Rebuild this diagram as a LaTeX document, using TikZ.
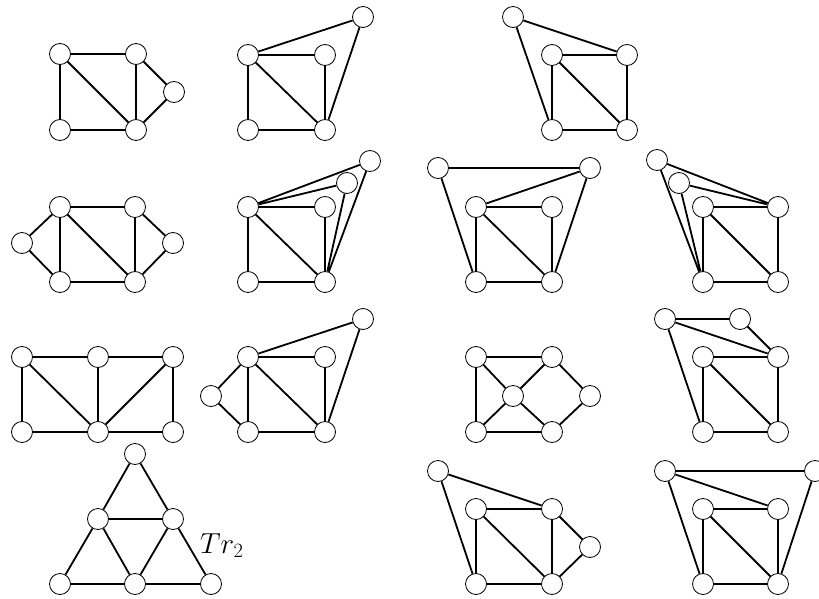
\RequirePackage{fix-cm}
\documentclass[tikz,border=0pt]{standalone}
\begin{document}
\begin{tikzpicture}[x=1pt,y=-1pt,
  v/.style={circle,draw,fill=white,minimum size=21pt,inner sep=0pt,line width=0.8pt},
  ed/.style={line width=1.8pt}]
\useasboundingbox (0,0) rectangle (819,599);
% Graph A
\node[v] (a1) at (60,54) {};
\node[v] (a2) at (136,54) {};
\node[v] (a3) at (174,92) {};
\node[v] (a4) at (60,130) {};
\node[v] (a5) at (136,130) {};
\draw[ed] (a1)--(a2) (a1)--(a4) (a1)--(a5) (a2)--(a5) (a2)--(a3) (a3)--(a5) (a4)--(a5);
% Graph B
\node[v] (b1) at (248,55) {};
\node[v] (b2) at (325,55) {};
\node[v] (b3) at (363,17) {};
\node[v] (b4) at (248,130) {};
\node[v] (b5) at (325,130) {};
\draw[ed] (b1)--(b2) (b1)--(b4) (b1)--(b5) (b2)--(b5) (b4)--(b5) (b1)--(b3) (b3)--(b5);
% Graph C
\node[v] (c1) at (513,17) {};
\node[v] (c2) at (552,55) {};
\node[v] (c3) at (627,55) {};
\node[v] (c4) at (552,130) {};
\node[v] (c5) at (627,130) {};
\draw[ed] (c1)--(c3) (c1)--(c4) (c2)--(c3) (c2)--(c4) (c2)--(c5) (c3)--(c5) (c4)--(c5);
% Graph D
\node[v] (d1) at (22,243) {};
\node[v] (d2) at (60,207) {};
\node[v] (d3) at (135,207) {};
\node[v] (d4) at (173,243) {};
\node[v] (d5) at (60,282) {};
\node[v] (d6) at (135,282) {};
\draw[ed] (d1)--(d2) (d1)--(d5) (d2)--(d3) (d2)--(d5) (d2)--(d6) (d3)--(d6) (d3)--(d4) (d4)--(d6) (d5)--(d6);
% Graph E
\node[v] (e1) at (248,207) {};
\node[v] (e2) at (325,207) {};
\node[v] (e3) at (347,183) {};
\node[v] (e4) at (370,161) {};
\node[v] (e5) at (248,282) {};
\node[v] (e6) at (325,282) {};
\draw[ed] (e1)--(e2) (e1)--(e5) (e1)--(e6) (e2)--(e6) (e5)--(e6) (e1)--(e3) (e1)--(e4) (e3)--(e6) (e4)--(e6);
% Graph F
\node[v] (f1) at (438,168) {};
\node[v] (f2) at (590,168) {};
\node[v] (f3) at (476,207) {};
\node[v] (f4) at (552,207) {};
\node[v] (f5) at (476,282) {};
\node[v] (f6) at (552,282) {};
\draw[ed] (f1)--(f2) (f1)--(f5) (f2)--(f3) (f2)--(f6) (f3)--(f4) (f3)--(f5) (f3)--(f6) (f4)--(f6) (f5)--(f6);
% Graph G
\node[v] (g1) at (657,160) {};
\node[v] (g2) at (679,183) {};
\node[v] (g3) at (703,207) {};
\node[v] (g4) at (778,207) {};
\node[v] (g5) at (703,282) {};
\node[v] (g6) at (778,282) {};
\draw[ed] (g1)--(g4) (g1)--(g5) (g2)--(g4) (g2)--(g5) (g3)--(g4) (g3)--(g5) (g3)--(g6) (g4)--(g6) (g5)--(g6);
% Graph H
\node[v] (h1) at (22,357) {};
\node[v] (h2) at (98,357) {};
\node[v] (h3) at (173,357) {};
\node[v] (h4) at (22,432) {};
\node[v] (h5) at (98,432) {};
\node[v] (h6) at (173,432) {};
\draw[ed] (h1)--(h2) (h2)--(h3) (h1)--(h4) (h1)--(h5) (h2)--(h5) (h3)--(h5) (h3)--(h6) (h4)--(h5) (h5)--(h6);
% Graph I
\node[v] (i1) at (211,396) {};
\node[v] (i2) at (248,357) {};
\node[v] (i3) at (325,357) {};
\node[v] (i4) at (363,319) {};
\node[v] (i5) at (248,432) {};
\node[v] (i6) at (325,432) {};
\draw[ed] (i1)--(i2) (i1)--(i5) (i2)--(i3) (i2)--(i5) (i2)--(i6) (i3)--(i6) (i5)--(i6) (i2)--(i4) (i4)--(i6);
% Graph J
\node[v] (j1) at (476,357) {};
\node[v] (j2) at (552,357) {};
\node[v] (j3) at (513,396) {};
\node[v] (j4) at (590,396) {};
\node[v] (j5) at (476,432) {};
\node[v] (j6) at (552,432) {};
\draw[ed] (j1)--(j2) (j1)--(j5) (j1)--(j3) (j2)--(j3) (j3)--(j5) (j3)--(j6) (j2)--(j4) (j4)--(j6) (j5)--(j6);
% Graph K
\node[v] (k1) at (665,319) {};
\node[v] (k2) at (740,319) {};
\node[v] (k3) at (703,357) {};
\node[v] (k4) at (778,357) {};
\node[v] (k5) at (703,432) {};
\node[v] (k6) at (778,432) {};
\draw[ed] (k1)--(k2) (k1)--(k4) (k1)--(k5) (k2)--(k4) (k3)--(k4) (k3)--(k5) (k3)--(k6) (k4)--(k6) (k5)--(k6);
% Graph L (Tr2)
\node[v] (l1) at (135,454) {};
\node[v] (l2) at (98,519) {};
\node[v] (l3) at (173,519) {};
\node[v] (l4) at (60,584) {};
\node[v] (l5) at (135,584) {};
\node[v] (l6) at (211,584) {};
\draw[ed] (l1)--(l2) (l1)--(l3) (l2)--(l3) (l2)--(l4) (l2)--(l5) (l3)--(l5) (l3)--(l6) (l4)--(l5) (l5)--(l6);
\node[anchor=base west,inner sep=0pt,font=\fontsize{29}{34}\selectfont] (lbl) at (200,553) {$Tr_2$};
% Graph M
\node[v] (m1) at (438,471) {};
\node[v] (m2) at (476,509) {};
\node[v] (m3) at (552,509) {};
\node[v] (m4) at (590,547) {};
\node[v] (m5) at (476,584) {};
\node[v] (m6) at (552,584) {};
\draw[ed] (m1)--(m3) (m1)--(m5) (m2)--(m3) (m2)--(m5) (m2)--(m6) (m3)--(m6) (m3)--(m4) (m4)--(m6) (m5)--(m6);
% Graph N
\node[v] (n1) at (665,471) {};
\node[v] (n2) at (815,471) {};
\node[v] (n3) at (703,509) {};
\node[v] (n4) at (778,509) {};
\node[v] (n5) at (703,584) {};
\node[v] (n6) at (778,584) {};
\draw[ed] (n1)--(n2) (n1)--(n4) (n1)--(n5) (n2)--(n6) (n3)--(n4) (n3)--(n5) (n3)--(n6) (n4)--(n6) (n5)--(n6);
\end{tikzpicture}
\end{document}
